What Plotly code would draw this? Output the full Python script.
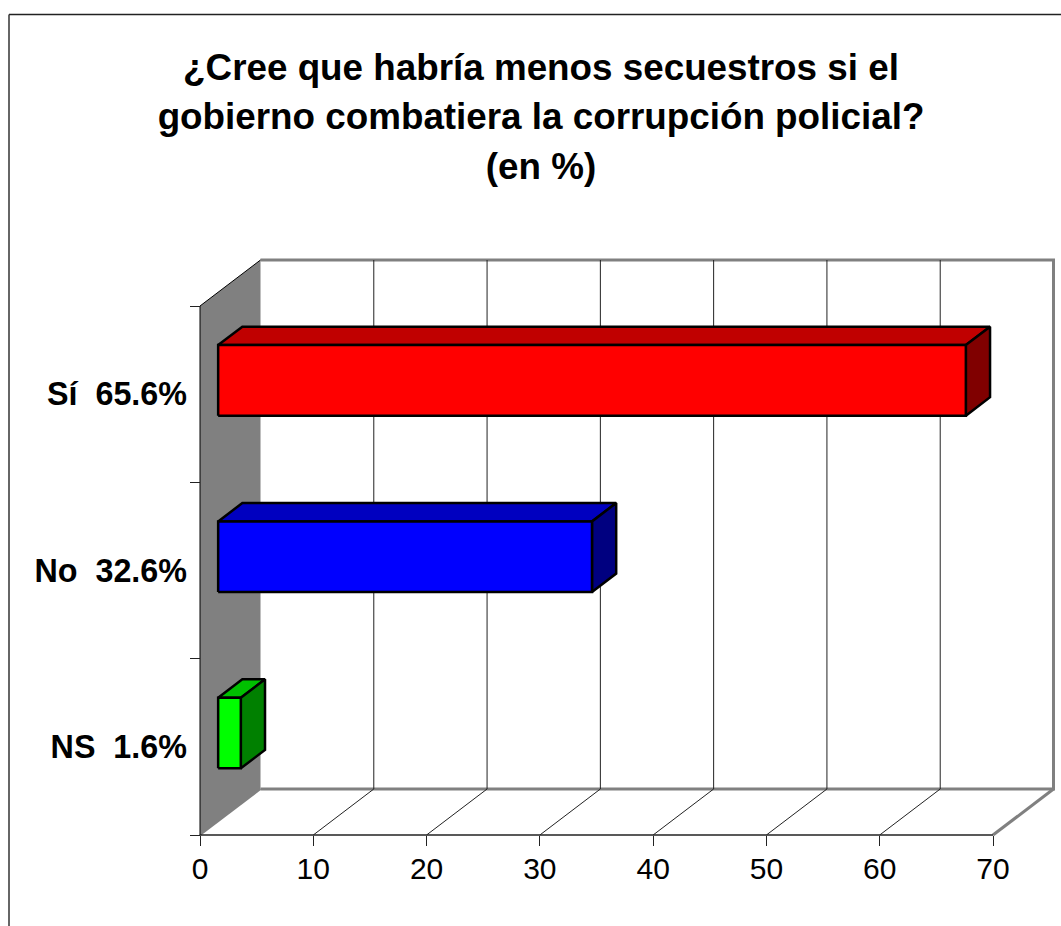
import plotly.graph_objects as go

# ---- data ----
categories = ["NS", "No", "Sí"]
shown_pct = ["1.6", "32.6", "65.6"]
bar_values = [2, 33, 66]
x_ticks = [0, 10, 20, 30, 40, 50, 60, 70]
front_colors = ["#00FF00", "#0000FF", "#FF0000"]
top_colors = ["#00C000", "#0000C0", "#C00000"]
side_colors = ["#008000", "#000080", "#800000"]
title_lines = ["¿Cree que habría menos secuestros si el",
               "gobierno combatiera la corrupción policial?",
               "(en %)"]

W, H = 1061, 926
X0_PX, PX_PER_X = 200.0, 793.0 / 70
Y0_PX, PX_PER_Y = 835.0, 529.0 / 3
DX, DY = 60.5 / PX_PER_X, 46.0 / PX_PER_Y   # oblique depth vector, data units
XMAX, YMAX = 70, 3
GAP = 1.5
BAR_T = 1 / (1 + GAP)
Z0, Z1 = 0.3, 0.7
GREY = "#808080"


def p(x, y, z=0.0):
    return x + z * DX, y + z * DY


fig = go.Figure()


def poly(pts, fill=None, line="black", width=1.0, closed=True):
    xs = [a for a, _ in pts]
    ys = [b for _, b in pts]
    if closed:
        xs.append(xs[0])
        ys.append(ys[0])
    fig.add_trace(go.Scatter(
        x=xs, y=ys, mode="lines", hoverinfo="skip", showlegend=False,
        fill="toself" if fill else None, fillcolor=fill,
        line=dict(color=line, width=width) if width else dict(width=0),
        cliponaxis=False))


# left wall
poly([p(0, 0), p(0, YMAX), p(0, YMAX, 1), p(0, 0, 1)], fill=GREY, width=0)
# back wall outline
poly([p(0, 0, 1), p(XMAX, 0, 1), p(XMAX, YMAX, 1), p(0, YMAX, 1)],
     line=GREY, width=3, closed=False)
# floor right / left edges
poly([p(XMAX, 0), p(XMAX, 0, 1)], line=GREY, width=3, closed=False)
poly([p(0, 0), p(0, 0, 1)], line=GREY, width=2, closed=False)
# gridlines, back wall and floor
for t in x_ticks[1:-1]:
    poly([p(t, 0), p(t, 0, 1), p(t, YMAX, 1)], line="#222222", width=1, closed=False)
# wall edges and front floor edge
poly([p(0, 0), p(0, YMAX), p(0, YMAX, 1)], line="black", width=1, closed=False)
poly([p(0, 0), p(XMAX, 0)], line="#222222", width=1.5, closed=False)

# 3-D bars
for i, v in enumerate(bar_values):
    y0, y1 = i + 0.5 - BAR_T / 2, i + 0.5 + BAR_T / 2
    poly([p(0, y1, Z0), p(v, y1, Z0), p(v, y1, Z1), p(0, y1, Z1)],
         fill=top_colors[i], width=2.5)
    poly([p(v, y0, Z0), p(v, y0, Z1), p(v, y1, Z1), p(v, y1, Z0)],
         fill=side_colors[i], width=2.5)
    poly([p(0, y0, Z0), p(v, y0, Z0), p(v, y1, Z0), p(0, y1, Z0)],
         fill=front_colors[i], width=2.5)

FONT = "Liberation Sans, Arial, sans-serif"
TITLE_PX = 36.8
title_text = "<br>".join(
    f'<span style="font-size:{TITLE_PX}px">{t}</span>' for t in title_lines)

fig.update_layout(
    width=W, height=H, margin=dict(l=0, r=0, t=0, b=0), autosize=False,
    paper_bgcolor="white", plot_bgcolor="white", showlegend=False,
    font=dict(family=FONT, color="black"),
    title=dict(text=title_text, x=541 / W, xanchor="center", y=1 - 80 / H, yanchor="top",
               font=dict(family=FONT, size=38, color="black", weight="bold")),
    xaxis=dict(
        range=[-X0_PX / PX_PER_X, (W - X0_PX) / PX_PER_X],
        domain=[0, 1], anchor="free", position=(H - Y0_PX) / H,
        tickmode="array", tickvals=x_ticks, ticktext=[str(t) for t in x_ticks],
        ticks="outside", ticklen=10, tickwidth=1, tickcolor="#222222",
        ticklabelstandoff=-3,
        tickfont=dict(family=FONT, size=30, color="black"),
        showgrid=False, zeroline=False, showline=False, fixedrange=True),
    yaxis=dict(
        range=[-(H - Y0_PX) / PX_PER_Y, Y0_PX / PX_PER_Y],
        domain=[0, 1], anchor="free", position=X0_PX / W,
        tickmode="array", tickvals=[i + 0.5 for i in range(len(categories))],
        ticktext=[f"{c}\u00a0\u00a0{s}%" for c, s in zip(categories, shown_pct)],
        ticks="", ticklabelstandoff=13,
        tickfont=dict(family=FONT, size=32.3, color="black", weight="bold"),
        minor=dict(tickmode="array", tickvals=list(range(YMAX + 1)), ticks="outside",
                   ticklen=10, tickwidth=1, tickcolor="#222222", showgrid=False),
        showgrid=False, zeroline=False, showline=False, fixedrange=True),
    shapes=[
        dict(type="line", xref="paper", yref="paper", x0=9 / W, x1=1, y0=1 - 14.5 / H, y1=1 - 14.5 / H,
             line=dict(color="#222222", width=1.5)),
        dict(type="line", xref="paper", yref="paper", x0=9 / W, x1=9 / W, y0=0, y1=1 - 14.5 / H,
             line=dict(color="#333333", width=1.5)),
    ],
)

fig.write_html("out.html", config=dict(displayModeBar=False),
               post_script="document.body.style.margin='0';document.body.style.overflow='hidden';")
